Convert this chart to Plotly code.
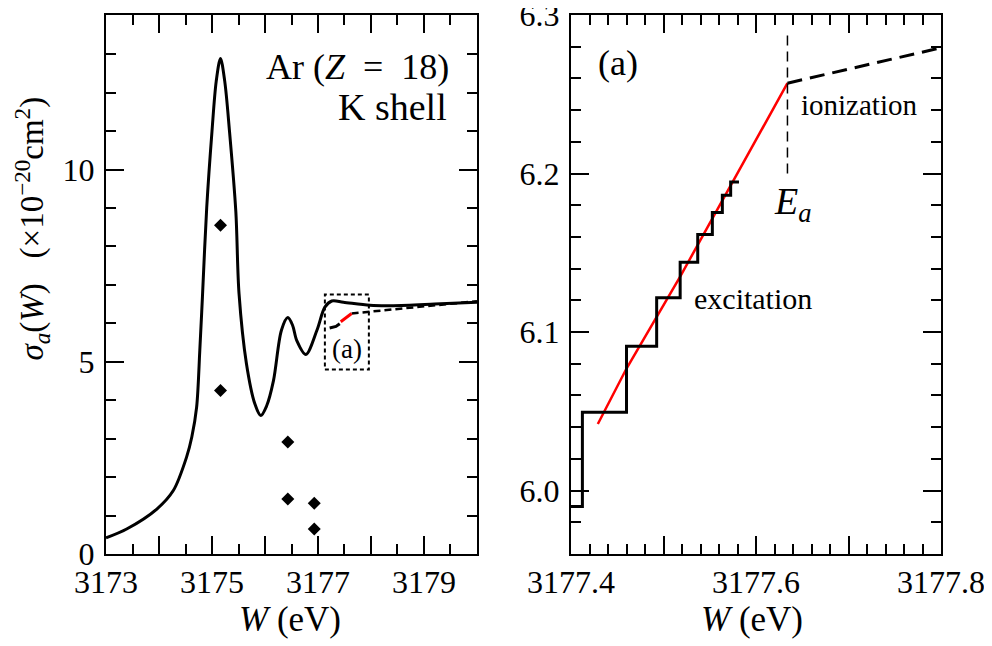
import plotly.graph_objects as go

FONT = "Liberation Serif"

# ---------------- data ----------------
# total K-shell cross section, left panel
curve_w = [3173.00, 3173.39, 3173.96, 3174.27, 3174.52, 3174.62, 3174.71, 3174.77,
           3174.82, 3174.90, 3175.00, 3175.08, 3175.16, 3175.24, 3175.33, 3175.45,
           3175.51, 3175.65, 3175.81, 3175.92, 3176.03, 3176.16, 3176.31, 3176.43,
           3176.52, 3176.60, 3176.77, 3176.98, 3177.13, 3177.26, 3177.48, 3177.98,
           3178.42, 3179.20, 3180.00]
curve_sigma = [0.42, 0.65, 1.17, 1.65, 2.52, 3.05, 3.82, 5.30,
               6.70, 9.00, 11.00, 12.30, 12.89, 12.30, 11.00, 8.90,
               6.77, 4.95, 3.90, 3.60, 3.85, 4.51, 5.82, 6.15,
               5.95, 5.55, 5.19, 5.82, 6.42, 6.58, 6.55, 6.47,
               6.46, 6.50, 6.55]

# individual line strengths (diamonds)
line_w = [3175.16, 3175.16, 3176.43, 3176.43, 3176.93, 3176.93]
line_sigma = [8.55, 4.25, 2.91, 1.43, 1.32, 0.65]

# excitation staircase (inset a)
step_w = [3177.400, 3177.4123, 3177.460, 3177.4926, 3177.518, 3177.537,
          3177.5528, 3177.5636, 3177.5726, 3177.5816]
step_sigma = [5.990, 6.0494, 6.091, 6.1217, 6.144, 6.1615,
              6.1754, 6.1863, 6.1947, 6.1947]

# lower part of the staircase, as seen in the left panel
low_step_w = [3177.22, 3177.34, 3177.41]
low_step_sigma = [5.88, 5.92, 5.99]

# smoothed excitation (red)
excit_w = [3177.429, 3177.460, 3177.518, 3177.580, 3177.634]
excit_sigma = [6.042, 6.077, 6.135, 6.200, 6.257]

# ionization continuation (dashed)
ion_w = [3177.634, 3177.800, 3180.000]
ion_sigma = [6.257, 6.2796, 6.575]

E_a = 3177.634
E_a_marker = [6.200, 6.2885]
inset_box_w = [3177.13, 3177.96]
inset_box_sigma = [4.80, 6.75]

fig = go.Figure()

# ---- left panel ----
fig.add_trace(go.Scatter(x=curve_w, y=curve_sigma, mode="lines",
                         line=dict(color="black", width=3, shape="spline", smoothing=0.9),
                         xaxis="x", yaxis="y", showlegend=False))
fig.add_trace(go.Scatter(x=ion_w, y=ion_sigma, mode="lines",
                         line=dict(color="black", width=2.5, dash="7px,4px"),
                         xaxis="x", yaxis="y", showlegend=False))
fig.add_trace(go.Scatter(x=low_step_w, y=low_step_sigma, mode="lines",
                         line=dict(color="black", width=3),
                         xaxis="x", yaxis="y", showlegend=False))
fig.add_trace(go.Scatter(x=excit_w, y=excit_sigma, mode="lines",
                         line=dict(color="#ff0000", width=3),
                         xaxis="x", yaxis="y", showlegend=False))
fig.add_trace(go.Scatter(x=line_w, y=line_sigma, mode="markers",
                         marker=dict(symbol="diamond", size=10, color="black"),
                         xaxis="x", yaxis="y", showlegend=False))

# ---- right panel ----
fig.add_trace(go.Scatter(x=excit_w, y=excit_sigma, mode="lines",
                         line=dict(color="#ff0000", width=2.5),
                         xaxis="x2", yaxis="y2", showlegend=False))
fig.add_trace(go.Scatter(x=step_w, y=step_sigma, mode="lines",
                         line=dict(color="black", width=3, shape="hv"),
                         xaxis="x2", yaxis="y2", showlegend=False))
fig.add_trace(go.Scatter(x=ion_w, y=ion_sigma, mode="lines",
                         line=dict(color="black", width=3, dash="15px,8px"),
                         xaxis="x2", yaxis="y2", showlegend=False))
fig.add_trace(go.Scatter(x=[E_a, E_a], y=E_a_marker, mode="lines",
                         line=dict(color="black", width=1.5, dash="10px,6px"),
                         xaxis="x2", yaxis="y2", showlegend=False))

tickfont = dict(family=FONT, size=32, color="black")


def axis_common():
    return dict(showline=True, linewidth=2, linecolor="black", mirror="allticks",
                ticks="inside", ticklen=18, tickwidth=1.5, tickcolor="black",
                showgrid=False, zeroline=False, tickfont=tickfont, automargin=False,
                ticklabeloverflow="allow")


left_x_vals = [3173, 3174, 3175, 3176, 3177, 3178, 3179, 3180]
left_x_text = ["3173", "", "3175", "", "3177", "", "3179", ""]
right_x_vals = [3177.4, 3177.5, 3177.6, 3177.7, 3177.8]
right_x_text = ["3177.4", "", "3177.6", "", "3177.8"]

# the page body adds an 8 px offset, so the figure is 8 px smaller than the window
fig.update_layout(
    width=984, height=638,
    margin=dict(l=98, r=51, t=7, b=92, autoexpand=False),
    paper_bgcolor="white", plot_bgcolor="white",
    font=dict(family=FONT, color="black"),
    xaxis=dict(domain=[0, 0.4443], range=[3173, 3180], anchor="y",
               tickvals=left_x_vals, ticktext=left_x_text, ticklabelstandoff=-1,
               minor=dict(ticks="inside", ticklen=10, tickwidth=1.5, tickcolor="black",
                          tick0=3173, dtick=0.5, showgrid=False),
               **axis_common()),
    yaxis=dict(domain=[0, 1], range=[0, 14.02], anchor="x",
               tickvals=[0, 5, 10], ticktext=["0", "5", "10"], ticklabelstandoff=3,
               minor=dict(ticks="inside", ticklen=10, tickwidth=1.5, tickcolor="black",
                          tick0=0, dtick=1, showgrid=False),
               **axis_common()),
    xaxis2=dict(domain=[0.5569, 1], range=[3177.4, 3177.8], anchor="y2",
                tickvals=right_x_vals, ticktext=right_x_text, ticklabelstandoff=-1,
                minor=dict(ticks="inside", ticklen=10, tickwidth=1.5, tickcolor="black",
                           tick0=3177.4, dtick=0.02, showgrid=False),
                **axis_common()),
    yaxis2=dict(domain=[0, 1], range=[5.96, 6.3], anchor="x2",
                tickvals=[6.0, 6.1, 6.2, 6.3], ticktext=["6.0", "6.1", "6.2", "6.3"],
                ticklabelstandoff=3,
                minor=dict(ticks="inside", ticklen=10, tickwidth=1.5, tickcolor="black",
                           tick0=6.0, dtick=0.02, showgrid=False),
                **axis_common()),
)

fig.add_shape(type="rect", xref="x", yref="y",
              x0=inset_box_w[0], x1=inset_box_w[1], y0=inset_box_sigma[0], y1=inset_box_sigma[1],
              line=dict(color="black", width=2, dash="4px,3px"))

NB = "\u00a0"
ann = []
ann.append(dict(text=f"Ar{NB}(<i>Z</i>{NB}{NB}={NB}{NB}18)", xref="x", yref="y", x=3179.51, y=12.67,
                xanchor="right", yanchor="middle", font=dict(size=36)))
ann.append(dict(text=f"K{NB}shell", xref="x", yref="y", x=3179.47, y=11.63,
                xanchor="right", yanchor="middle", font=dict(size=38)))
ann.append(dict(text="(a)", xref="x", yref="y", x=3177.54, y=5.34,
                xanchor="center", yanchor="middle", font=dict(size=27)))
ann.append(dict(text="(a)", xref="x2", yref="y2", x=3177.451, y=6.2695,
                xanchor="center", yanchor="middle", font=dict(size=36)))
ann.append(dict(text="ionization", xref="x2", yref="y2", x=3177.711, y=6.243,
                xanchor="center", yanchor="middle", font=dict(size=29)))
ann.append(dict(text="excitation", xref="x2", yref="y2", x=3177.597, y=6.121,
                xanchor="center", yanchor="middle", font=dict(size=30)))
ann.append(dict(text="<i>E<sub>a</sub></i>", xref="x2", yref="y2", x=3177.64, y=6.181,
                xanchor="center", yanchor="middle", font=dict(size=38)))
ann.append(dict(text=f"<i>W</i>{NB}(eV)", xref="paper", yref="paper", x=0.2204, y=-0.1224,
                xanchor="center", yanchor="middle", font=dict(size=35)))
ann.append(dict(text=f"<i>W</i>{NB}(eV)", xref="paper", yref="paper", x=0.7737, y=-0.1224,
                xanchor="center", yanchor="middle", font=dict(size=35)))
ann.append(dict(text=f"<i>σ<sub>a</sub></i>(<i>W</i>){NB}{NB}{NB}(×10<sup>−20</sup>cm<sup>2</sup>)",
                xref="paper", yref="paper", x=-0.088, y=0.603, textangle=-90,
                xanchor="center", yanchor="middle", font=dict(size=33)))
for a in ann:
    a["showarrow"] = False
    a["font"]["family"] = FONT
    a["font"]["color"] = "black"
fig.update_layout(annotations=ann)

fig.write_html("out.html")
